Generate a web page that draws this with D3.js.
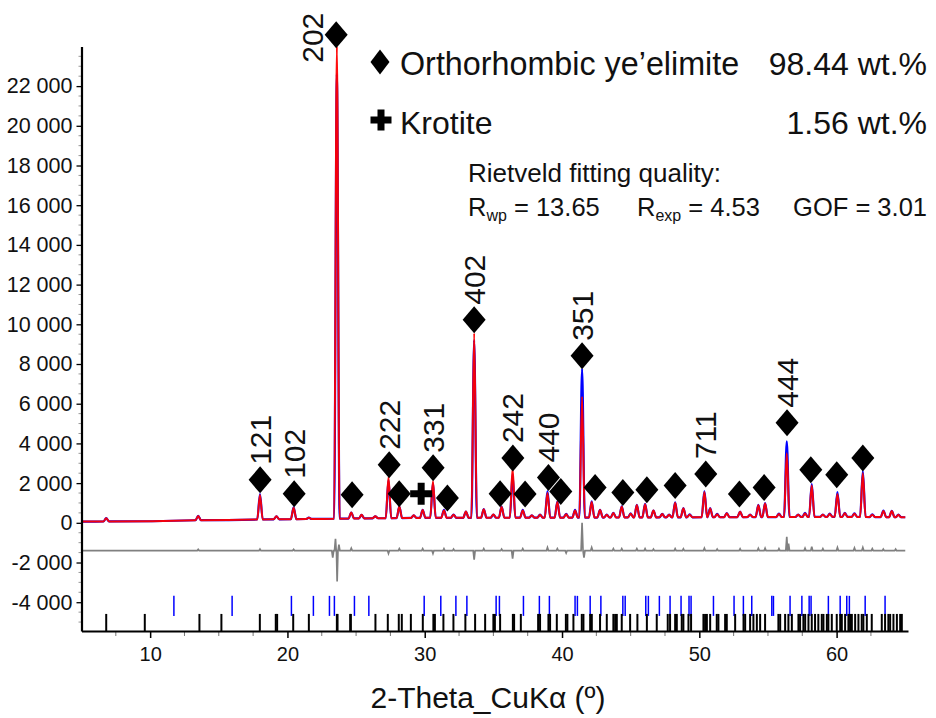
<!DOCTYPE html>
<html><head><meta charset="utf-8">
<script src="https://cdn.jsdelivr.net/npm/d3@7"></script>
<style>
body{margin:0;background:#fff}
text{font-family:Arial,"Liberation Sans",Helvetica,sans-serif;fill:#111}
</style>
</head><body>
<svg id="chart" width="936" height="718"></svg>
<script>
// ---------- DATA ----------
// Peak positions (2θ, °), observed and calculated intensities (counts)
const peakPos  = [6.8, 13.5, 18.0, 19.2, 20.45, 21.56, 23.6, 24.65, 25.4, 26.4, 27.36, 28.15, 29.2, 29.85, 30.6, 31.4, 32.1, 33.0, 33.6, 34.3, 35.0, 35.6, 36.4, 37.14, 37.8, 38.4, 38.94, 39.66, 40.3, 40.95, 41.46, 42.16, 42.77, 43.26, 43.74, 44.35, 45.0, 45.45, 46.05, 46.66, 47.3, 47.8, 48.24, 48.84, 49.3, 50.37, 50.79, 51.3, 52.0, 52.97, 53.7, 54.3, 54.79, 55.8, 56.37, 57.2, 57.7, 58.19, 59.0, 59.5, 60.06, 60.6, 61.3, 61.91, 62.6, 63.41, 64.02, 64.5];
const peakObs  = [240, 350, 1450, 330, 780, 260, 22600, 520, 400, 330, 2150, 820, 380, 650, 2000, 650, 420, 570, 9200, 690, 420, 820, 2450, 650, 380, 420, 1600, 1070, 450, 650, 7750, 1080, 650, 420, 500, 830, 480, 900, 950, 620, 450, 420, 1030, 740, 430, 1600, 740, 450, 490, 570, 420, 900, 990, 470, 4100, 420, 500, 1950, 420, 460, 1550, 500, 480, 2600, 430, 620, 600, 420];
const peakCalc = [230, 340, 1400, 330, 760, 250, 24000, 520, 400, 330, 2300, 820, 380, 650, 2100, 620, 400, 570, 9550, 680, 420, 800, 2750, 620, 370, 400, 1500, 1050, 430, 620, 6350, 1050, 640, 400, 490, 810, 460, 900, 930, 620, 440, 400, 1010, 740, 410, 1550, 720, 430, 480, 560, 410, 880, 970, 450, 3500, 400, 470, 1880, 400, 440, 1450, 480, 460, 2500, 410, 600, 590, 400];
// Background level (counts)
const bgPos = [5, 10, 12.5, 15, 20, 25, 30, 40, 50, 60, 65.2];
const bgVal = [60, 80, 120, 150, 180, 220, 250, 260, 280, 300, 280];
// Difference curve spikes (obs - calc), plotted about an offset
const diffOffset = -1400;
const diffPos = [13.5, 18.0, 20.45, 23.3, 23.5, 23.62, 23.75, 24.65, 27.36, 28.15, 29.85, 30.6, 31.4, 32.1, 33.6, 34.3, 35.6, 36.4, 37.14, 38.94, 39.66, 40.3, 41.46, 41.6, 42.16, 43.74, 44.35, 45.45, 46.05, 46.66, 48.24, 48.84, 50.37, 51.3, 52.97, 54.3, 54.79, 55.8, 56.37, 56.5, 57.7, 58.19, 59.0, 60.06, 61.3, 61.91, 62.6, 63.4, 64.3];
const diffVal = [60, 80, 60, -350, 600, -1550, 300, 120, -150, 100, 100, -150, 100, 80, -450, 100, 80, -400, 100, 150, 100, -120, 1400, -350, 150, 100, 100, 100, 100, 80, 100, 90, 120, 80, 90, 110, 120, 100, 700, 350, 120, 200, 100, 150, 130, 150, 100, 80, 80];
// Reflection tick marks (2θ, °)
const blueTicks = [11.73, 15.97, 20.29, 21.89, 23.06, 23.42, 24.88, 25.93, 29.96, 31.17, 32.27, 33.07, 35.20, 35.44, 37.19, 38.35, 39.08, 40.95, 41.12, 42.05, 42.83, 44.43, 44.60, 46.10, 46.29, 47.09, 47.87, 48.67, 49.25, 49.40, 51.03, 52.53, 53.21, 53.82, 55.28, 55.40, 56.61, 57.47, 58.00, 58.14, 59.40, 60.26, 60.74, 60.93, 62.08, 63.53];
const blackTicks = [6.80, 9.61, 13.59, 15.19, 17.99, 19.15, 19.25, 20.42, 21.56, 23.60, 23.65, 24.57, 24.62, 26.41, 27.31, 28.11, 28.33, 28.99, 29.86, 30.63, 30.74, 31.36, 32.09, 32.96, 33.67, 34.40, 35.00, 35.11, 35.49, 36.42, 36.51, 37.00, 38.26, 38.40, 39.01, 39.13, 39.62, 40.28, 40.39, 40.83, 41.44, 41.56, 42.05, 42.17, 42.77, 43.26, 43.74, 43.87, 43.99, 44.35, 44.96, 45.49, 46.18, 46.90, 47.70, 47.87, 48.24, 48.36, 48.72, 48.84, 49.21, 49.40, 50.30, 50.42, 50.55, 50.79, 51.27, 51.39, 51.88, 52.00, 52.61, 53.22, 53.34, 53.70, 53.94, 54.19, 54.43, 54.79, 55.76, 55.89, 56.25, 56.49, 56.74, 57.22, 57.34, 57.58, 57.71, 57.95, 58.19, 58.43, 58.67, 58.92, 59.04, 59.29, 59.40, 59.65, 60.01, 60.26, 60.38, 60.62, 60.86, 60.98, 61.11, 61.35, 61.59, 61.83, 61.95, 62.20, 62.56, 63.29, 63.53, 63.77, 63.90, 64.14, 64.39, 64.63, 64.75];
// Phase markers (diamond = orthorhombic ye'elimite) with hkl labels
const markPos   = [18.01, 20.49, 23.55, 24.71, 27.41, 28.14, 30.61, 31.65, 33.60, 35.49, 36.42, 37.31, 39.01, 39.91, 41.46, 42.41, 44.43, 46.18, 48.24, 50.47, 52.92, 54.72, 56.39, 58.12, 60.01, 61.91];
const markVal   = [2166, 1461, 24584, 1411, 2922, 1461, 2771, 1244, 10227, 1461, 3259, 1446, 2282, 1577, 8413, 1778, 1526, 1662, 1879, 2453, 1446, 1778, 5038, 2670, 2418, 3259];
const markLabel = ["121", "102", "202", "", "222", "", "331", "", "402", "", "242", "", "440", "", "351", "", "", "", "", "711", "", "", "444", "", "", ""];
// Krotite marker
const krotPos = [29.74];
const krotVal = [1461];
// Axis ticks
const yTickVals = [-4000, -2000, 0, 2000, 4000, 6000, 8000, 10000, 12000, 14000, 16000, 18000, 20000, 22000];
const xTickVals = [10, 20, 30, 40, 50, 60];
// Legend / text
const phaseNames = ["Orthorhombic ye\u2019elimite", "Krotite"];
const phaseWt = ["98.44 wt.%", "1.56 wt.%"];
const fitTitle = "Rietveld fitting quality:";
const fitStats = [["R", "wp", " = 13.65"], ["R", "exp", " = 4.53"], ["GOF = 3.01", "", ""]];
const xTitle = "2-Theta_CuK\u03b1 (\u00ba)";

// ---------- DRAWING ----------
const svg = d3.select("#chart");
const x = d3.scaleLinear().domain([5, 65.2]).range([81.5, 908]);
const y = d3.scaleLinear().domain([-5450, 24000]).range([631, 46.4]);
const bg = d3.scaleLinear().domain(bgPos).range(bgVal);
const halfW = 0.2;

function profile(vals) {
  const pts = [[5, bg(5)]];
  peakPos.forEach((p, i) => {
    pts.push([p - halfW, bg(p - halfW)]);
    pts.push([p, vals[i]]);
    pts.push([p + halfW, bg(p + halfW)]);
  });
  pts.push([65, bg(65)]);
  return pts;
}
const line = d3.line().x(d => x(d[0])).y(d => y(d[1])).curve(d3.curveMonotoneX);

// difference curve
const dpts = [[5, 0]];
diffPos.forEach((p, i) => { dpts.push([p - 0.07, 0]); dpts.push([p, diffVal[i]]); dpts.push([p + 0.07, 0]); });
dpts.push([65, 0]);
dpts.sort((a, b) => a[0] - b[0]);
svg.append("path").attr("d", d3.line().x(d => x(d[0])).y(d => y(d[1] + diffOffset))(dpts))
  .attr("fill", "none").attr("stroke", "#808080").attr("stroke-width", 1.7);

// observed & calculated
svg.append("path").attr("d", line(profile(peakObs)))
  .attr("fill", "none").attr("stroke", "#0000ff").attr("stroke-width", 2.2);
svg.append("path").attr("d", line(profile(peakCalc)))
  .attr("fill", "none").attr("stroke", "#ff0000").attr("stroke-width", 2).attr("stroke-opacity", 0.95);

// reflection ticks
svg.append("g").selectAll("line").data(blueTicks).join("line")
  .attr("x1", d => x(d)).attr("x2", d => x(d))
  .attr("y1", y(-3680)).attr("y2", y(-4690))
  .attr("stroke", "#0000ff").attr("stroke-width", 1.5);
svg.append("g").selectAll("line").data(blackTicks).join("line")
  .attr("x1", d => x(d)).attr("x2", d => x(d))
  .attr("y1", y(-4590)).attr("y2", y(-5450))
  .attr("stroke", "#000").attr("stroke-width", 2);

// axes
const fmt = d => (d < 0 ? "-" : "") + (Math.abs(d) >= 1000 ? Math.floor(Math.abs(d) / 1000) + " 000" : "0");
const yMinor = d3.range(-5000, 24001, 500).filter(v => v % 2000 !== 0);
svg.append("g").selectAll("line").data(yMinor).join("line")
  .attr("x1", x(5) - 3).attr("x2", x(5)).attr("y1", d => y(d)).attr("y2", d => y(d))
  .attr("stroke", "#999").attr("stroke-width", 1);
const yAxis = svg.append("g").attr("transform", `translate(${x(5)},0)`)
  .call(d3.axisLeft(y).tickValues(yTickVals).tickFormat(fmt).tickSize(5).tickSizeOuter(0));
yAxis.select(".domain").attr("stroke-width", 2.2);
yAxis.selectAll(".tick line").attr("stroke-width", 1.3);
yAxis.selectAll(".tick text").attr("font-size", 21.5).attr("fill", "#111").attr("dx", "-1").attr("font-family", "Arial, Liberation Sans, sans-serif");

const xMinor = d3.range(7.5, 65, 2.5).filter(v => v % 10 !== 0);
svg.append("g").selectAll("line").data(xMinor).join("line")
  .attr("x1", d => x(d)).attr("x2", d => x(d)).attr("y1", y(-5450)).attr("y2", y(-5450) + 5)
  .attr("stroke", "#777").attr("stroke-width", 1);
const xAxis = svg.append("g").attr("transform", `translate(0,${y(-5450)})`)
  .call(d3.axisBottom(x).tickValues(xTickVals).tickFormat(d3.format("d")).tickSize(7).tickSizeOuter(0));
xAxis.select(".domain").attr("stroke-width", 2.2);
xAxis.selectAll(".tick line").attr("stroke-width", 1.5);
xAxis.selectAll(".tick text").attr("font-size", 20).attr("fill", "#111").attr("dy", "1.0em").attr("font-family", "Arial, Liberation Sans, sans-serif");

svg.append("text").attr("x", 488).attr("y", 708).attr("text-anchor", "middle")
  .attr("font-size", 30).text(xTitle);

// markers
const diamond = (cx, cy, w, h) => `M${cx},${cy - h / 2}L${cx + w / 2},${cy}L${cx},${cy + h / 2}L${cx - w / 2},${cy}Z`;
svg.append("g").selectAll("path").data(markPos).join("path")
  .attr("d", (d, i) => diamond(x(d), y(markVal[i]), 23, 27)).attr("fill", "#000");
svg.append("g").selectAll("text").data(markPos).join("text")
  .attr("transform", (d, i) => {
    const cx = x(d), cy = y(markVal[i]);
    if (markVal[i] > 20000) return `translate(${cx - 13.5},${cy + 28}) rotate(-90)`;
    return `translate(${cx + 10.5},${cy - 15}) rotate(-90)`;
  })
  .attr("font-size", 30).text((d, i) => markLabel[i]);
const plus = (cx, cy, s, t) => `M${cx - t / 2},${cy - s / 2}h${t}v${(s - t) / 2}h${(s - t) / 2}v${t}h${-(s - t) / 2}v${(s - t) / 2}h${-t}v${-(s - t) / 2}h${-(s - t) / 2}v${-t}h${(s - t) / 2}Z`;
svg.append("g").selectAll("path").data(krotPos).join("path")
  .attr("d", (d, i) => plus(x(d), y(krotVal[i]), 22, 7)).attr("fill", "#000");

// legend
svg.append("path").attr("d", diamond(380, 62, 19, 25)).attr("fill", "#000");
svg.append("path").attr("d", plus(381, 120, 21, 7)).attr("fill", "#000");
svg.append("text").attr("x", 400).attr("y", 75).attr("font-size", 32.3).text(phaseNames[0]);
svg.append("text").attr("x", 927).attr("y", 75).attr("text-anchor", "end").attr("font-size", 32).text(phaseWt[0]);
svg.append("text").attr("x", 400).attr("y", 134).attr("font-size", 32).text(phaseNames[1]);
svg.append("text").attr("x", 927).attr("y", 134).attr("text-anchor", "end").attr("font-size", 32).text(phaseWt[1]);
svg.append("text").attr("x", 468).attr("y", 182).attr("font-size", 26).text(fitTitle);
const statX = [468, 637, 927];
fitStats.forEach((s, i) => {
  const t = svg.append("text").attr("x", statX[i]).attr("y", 216).attr("font-size", 25.5)
    .attr("text-anchor", i === 2 ? "end" : "start");
  t.append("tspan").text(s[0]);
  if (s[1]) t.append("tspan").attr("font-size", 16).attr("dy", 5).text(s[1]);
  if (s[2]) t.append("tspan").attr("dy", -5).text(s[2]);
});
</script>
</body></html>
